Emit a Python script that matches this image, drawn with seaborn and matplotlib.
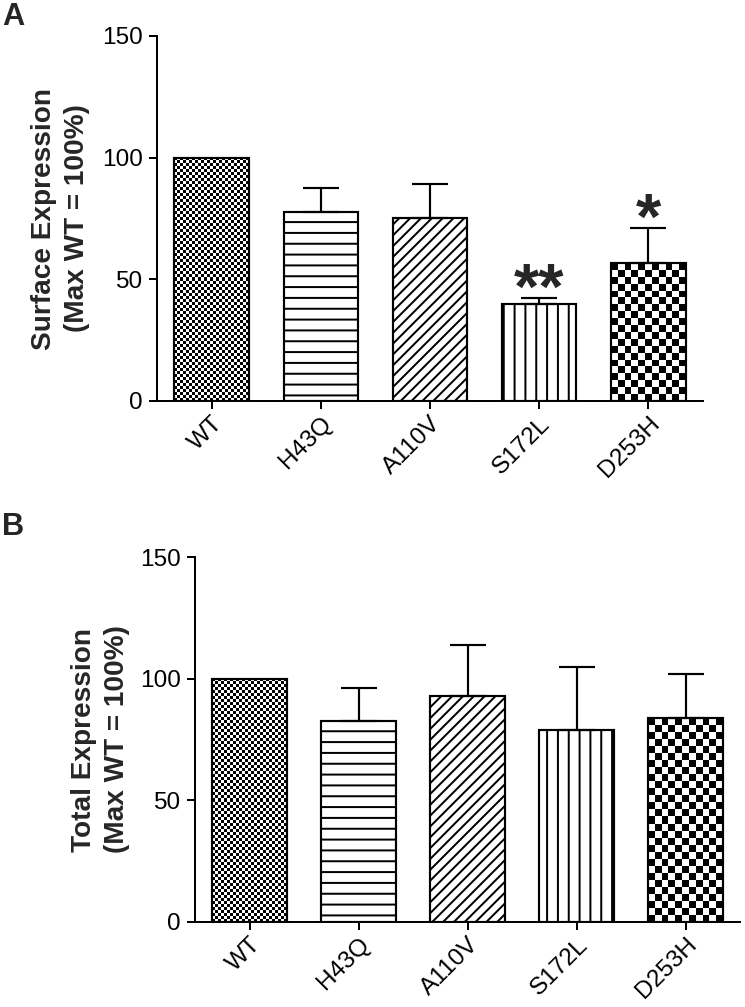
import numpy as np
import seaborn as sns
import matplotlib.pyplot as plt

sns.set_style("ticks")
plt.rcParams['font.family'] = ['Liberation Sans', 'DejaVu Sans']
plt.rcParams['hatch.linewidth'] = 1.1

mutants = ['WT', 'H43Q', 'A110V', 'S172L', 'D253H']

# panel A - surface expression (mean, upper SEM)
surface_mean = [100, 77.5, 75.4, 39.8, 56.6]
surface_err = [0, 10.2, 13.6, 2.4, 14.4]
surface_stars = ['', '', '', '**', '*']

# panel B - total expression
total_mean = [100, 82.4, 92.8, 78.9, 83.7]
total_err = [0, 13.9, 21.2, 25.8, 18.1]
total_stars = ['', '', '', '', '']

# fill style per bar: checker size (px) or hatch
fills = [('checker', 3), ('hatch', '--'), ('hatch', '////'), ('hatch', '||'), ('checker', 7)]

DPI = 130
fig = plt.figure(figsize=(745 / DPI, 1007 / DPI), dpi=DPI)
axA = fig.add_axes([157 / 745, 1 - 401 / 1007, 546 / 745, 365 / 1007])
axB = fig.add_axes([195 / 745, 1 - 922 / 1007, 545 / 745, 365 / 1007])


def checker(ax, bar, px):
    x0 = bar.get_x()
    w = bar.get_width()
    h = bar.get_height()
    (dx0, dy0), (dx1, dy1) = ax.transData.transform([(x0, 0), (x0 + w, h)])
    ncol = max(1, int(round((dx1 - dx0) / px)))
    nrow = max(1, int(round((dy1 - dy0) / px)))
    grid = np.indices((nrow, ncol)).sum(axis=0) % 2
    im = ax.imshow(grid, cmap='gray', extent=(x0, x0 + w, 0, h), origin='upper',
                   interpolation='nearest', aspect='auto', zorder=1.5)
    im.set_clip_path(bar)
    bar.set_facecolor('none')
    bar.set_zorder(2)


def panel(ax, means, errs, stars, ylabel):
    sns.barplot(x=mutants, y=means, color='white', edgecolor='black', linewidth=1.2,
                width=0.68, saturation=1, errorbar=None, ax=ax)
    ax.set_xlim(-0.5, 4.5)
    ax.set_ylim(0, 150)
    for bar, (kind, spec) in zip(ax.patches, fills):
        bar.set_zorder(2)
        if kind == 'hatch':
            bar.set_hatch(spec)
        else:
            checker(ax, bar, spec)
    ax.set_xlim(-0.5, 4.5)
    ax.set_ylim(0, 150)

    idx = [i for i, e in enumerate(errs) if e > 0]
    ax.errorbar(idx, [means[i] for i in idx],
                yerr=[[0] * len(idx), [errs[i] for i in idx]],
                fmt='none', ecolor='black', elinewidth=1.2, capsize=10, capthick=1.2, zorder=5)
    for i, s in enumerate(stars):
        if s:
            ax.annotate(s, (i, means[i] + errs[i]), xytext=(0, -6), textcoords='offset points',
                        ha='center', va='baseline', fontsize=36, fontweight='bold')

    ax.set_yticks([0, 50, 100, 150])
    ax.tick_params(axis='both', direction='out', length=4.5, width=1.1, labelsize=13.5,
                   color='black', labelcolor='black')
    ax.tick_params(axis='x', pad=2)
    plt.setp(ax.get_xticklabels(), rotation=45, ha='right', rotation_mode='anchor')
    for side in ['left', 'bottom']:
        ax.spines[side].set_linewidth(1.1)
        ax.spines[side].set_color('black')
    sns.despine(ax=ax)
    ax.set_ylabel(ylabel, fontsize=15.5, fontweight='bold', linespacing=1.35)
    ax.set_xlabel('')


panel(axA, surface_mean, surface_err, surface_stars, 'Surface Expression\n(Max WT = 100%)')
panel(axB, total_mean, total_err, total_stars, 'Total Expression\n(Max WT = 100%)')
axA.yaxis.set_label_coords(-0.123, 0.5)
axB.yaxis.set_label_coords(-0.119, 0.5)

fig.text(2 / 745, 1 - 2 / 1007, 'A', fontsize=17, fontweight='bold', va='top', ha='left')
fig.text(2 / 745, 1 - 512 / 1007, 'B', fontsize=17, fontweight='bold', va='top', ha='left')

fig.savefig('out.png', dpi=DPI)
